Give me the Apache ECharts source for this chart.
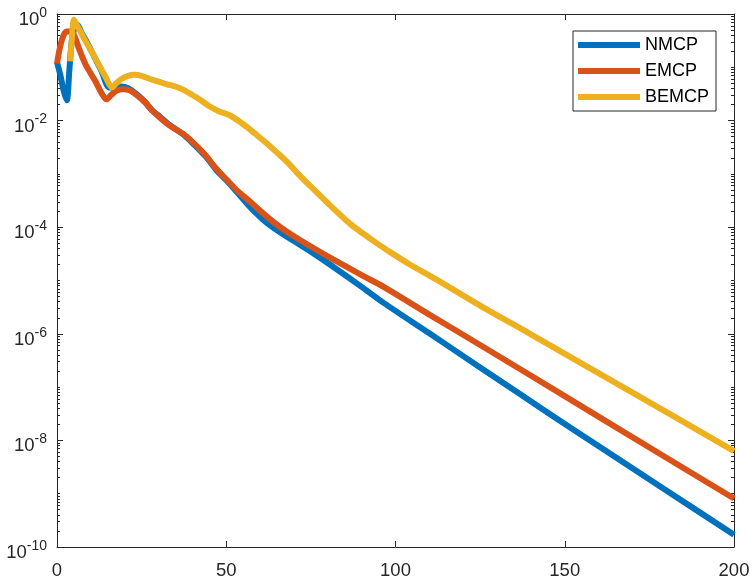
<!DOCTYPE html>
<html><head><meta charset="utf-8">
<script src="https://cdn.jsdelivr.net/npm/echarts@6/dist/echarts.min.js"></script>
<style>html,body{margin:0;padding:0;background:#fff}#c{width:754px;height:581px}</style>
</head><body><div id="c"></div>
<script>
const seriesNames = ['NMCP', 'EMCP', 'BEMCP'];
const nmcpX = [0, 1, 2, 2.9, 3.6, 4.3, 5.2, 6, 7.3, 9, 11, 13, 15.5, 17, 19, 21, 23.5, 26, 28, 30.5, 33, 35, 37.5, 40, 44, 47, 50, 53, 57, 62, 66, 70, 76, 82, 90, 96.5, 110, 125, 145, 162, 180, 200];
const nmcpY = [0.126, 0.0708, 0.0355, 0.024, 0.0794, 0.282, 0.562, 0.631, 0.437, 0.282, 0.158, 0.0891, 0.0417, 0.0417, 0.0437, 0.0407, 0.0316, 0.0224, 0.0158, 0.0117, 0.00851, 0.00692, 0.00537, 0.0038, 0.00209, 0.0012, 7.59e-4, 4.68e-4, 2.4e-4, 1.2e-4, 7.94e-5, 5.5e-5, 3.16e-5, 1.74e-5, 7.59e-6, 3.8e-6, 1.02e-6, 2.34e-7, 3.31e-8, 6.46e-9, 1.15e-9, 1.7e-10];
const emcpX = [0, 0.8, 1.8, 2.8, 4.2, 5.2, 6.5, 8.3, 10, 11.5, 13.2, 14.6, 16, 17.5, 19.5, 21.5, 23.5, 26, 28, 30.5, 33, 35, 37.5, 40, 44, 47, 50, 53, 57, 62, 66, 70, 76, 82, 90, 96.5, 110, 125, 150, 176, 200];
const emcpY = [0.1175, 0.224, 0.38, 0.468, 0.468, 0.38, 0.224, 0.1175, 0.0759, 0.0525, 0.0324, 0.0251, 0.0302, 0.0363, 0.0389, 0.0372, 0.0302, 0.0219, 0.0158, 0.0112, 0.00832, 0.00692, 0.0055, 0.00398, 0.00219, 0.00126, 7.94e-4, 5.01e-4, 3.02e-4, 1.58e-4, 1e-4, 6.76e-5, 3.98e-5, 2.4e-5, 1.26e-5, 7.59e-6, 2.29e-6, 6.17e-7, 6.76e-8, 6.76e-9, 8.13e-10];
const bemcpX = [3.9, 4.4, 5, 6, 7.5, 9, 10.7, 12.5, 14.5, 16.2, 17.5, 19, 21, 22.8, 25, 27.5, 30, 32.5, 35, 37.5, 40, 42.5, 45, 48, 51, 54, 56.5, 59, 62, 65, 68, 72, 76, 80, 86.5, 90, 94, 98, 104, 112, 125, 140, 165, 182, 200];
const bemcpY = [0.129, 0.355, 0.776, 0.603, 0.398, 0.269, 0.174, 0.107, 0.0631, 0.0417, 0.0501, 0.0603, 0.0692, 0.0724, 0.0692, 0.0603, 0.0537, 0.0479, 0.0437, 0.0372, 0.0302, 0.024, 0.0186, 0.0148, 0.0126, 0.00955, 0.00724, 0.00537, 0.00372, 0.00251, 0.00166, 8.91e-4, 5.01e-4, 2.82e-4, 1.17e-4, 7.94e-5, 5.25e-5, 3.55e-5, 2.04e-5, 1.05e-5, 3.39e-6, 9.77e-7, 1.2e-7, 2.88e-8, 6.31e-9];
const xTicks = [0, 50, 100, 150, 200];
const yMajorTicks = [1e-10, 1e-8, 1e-6, 1e-4, 1e-2, 1];

const colors = ['#0072BD', '#D95319', '#EDB120'];
const axisColor = '#262626';
const font = 'Liberation Sans, Arial, Helvetica, sans-serif';

// tick positions in decade (exponent) units for the tick-only axes
const majorExp = yMajorTicks.map(v => Math.round(Math.log10(v)));
const minorExp = [];
for (let e = -10; e < 0; e++) {
  for (let k = 1; k < 10; k++) {
    if (k === 1 && e % 2 === 0) continue;
    minorExp.push(e + Math.log10(k));
  }
}

function pairs(xs, ys) { return xs.map((x, i) => [x, ys[i]]); }

const xBase = {
  type: 'value', min: 0, max: 200, interval: 50,
  axisLine: { show: true, onZero: false, lineStyle: { color: axisColor, width: 1 } },
  axisTick: { show: true, inside: true, length: 6, lineStyle: { color: axisColor, width: 1 } },
  splitLine: { show: false }
};
function tickAxis(pos, vals, len, showLine) {
  return {
    type: 'value', min: -10, max: 0, interval: 1, position: pos,
    axisLine: { show: showLine, onZero: false, lineStyle: { color: axisColor, width: 1 } },
    axisTick: { show: true, inside: true, length: len, customValues: vals, lineStyle: { color: axisColor, width: 1 } },
    axisLabel: { show: false },
    splitLine: { show: false }
  };
}

const option = {
  animation: false,
  backgroundColor: '#fff',
  grid: { left: 57, right: 20, top: 14, bottom: 34, containLabel: false, outerBoundsMode: 'none' },
  legend: {
    data: seriesNames,
    orient: 'vertical',
    left: 573, top: 31,
    icon: 'rect',
    itemWidth: 62, itemHeight: 6,
    itemGap: 8,
    padding: [5, 7, 5, 5],
    borderColor: axisColor, borderWidth: 1,
    backgroundColor: '#fff',
    textStyle: { fontSize: 18, fontFamily: font, color: '#000' }
  },
  xAxis: [
    Object.assign({}, xBase, {
      position: 'bottom',
      axisLabel: { show: true, fontSize: 18.5, lineHeight: 18.5, margin: 15, color: axisColor, fontFamily: font, customValues: xTicks }
    }),
    Object.assign({}, xBase, { position: 'top', axisLabel: { show: false } })
  ],
  yAxis: [
    {
      type: 'log', logBase: 10, min: 1e-10, max: 1, position: 'left',
      axisLine: { show: true, onZero: false, lineStyle: { color: axisColor, width: 1 } },
      axisTick: { show: false },
      splitLine: { show: false },
      axisLabel: {
        show: true, margin: 10, customValues: yMajorTicks, color: axisColor, fontFamily: font,
        formatter: function (v) { return '{b|10}{s|' + Math.round(Math.log10(v)) + '}'; },
        rich: {
          b: { fontSize: 18.5, lineHeight: 18.5, padding: [12, 0, 0, 0], color: axisColor, fontFamily: font },
          s: { fontSize: 14, lineHeight: 14, padding: [0, 0, 2, 0], color: axisColor, fontFamily: font }
        }
      }
    },
    tickAxis('left', majorExp, 6, false),
    tickAxis('left', minorExp, 3, false),
    tickAxis('right', majorExp, 6, true),
    tickAxis('right', minorExp, 3, false)
  ],
  series: [
    { name: seriesNames[0], data: pairs(nmcpX, nmcpY), color: colors[0] },
    { name: seriesNames[1], data: pairs(emcpX, emcpY), color: colors[1] },
    { name: seriesNames[2], data: pairs(bemcpX, bemcpY), color: colors[2] }
  ].map(s => Object.assign({
    type: 'line', xAxisIndex: 0, yAxisIndex: 0,
    showSymbol: false, symbol: 'none',
    smooth: 0.3,
    lineStyle: { width: 6, color: s.color, cap: 'butt', join: 'round' },
    itemStyle: { color: s.color },
    clip: true
  }, s))
};

const chart = echarts.init(document.getElementById('c'), null, { renderer: 'canvas' });
chart.setOption(option);
</script>
</body></html>
